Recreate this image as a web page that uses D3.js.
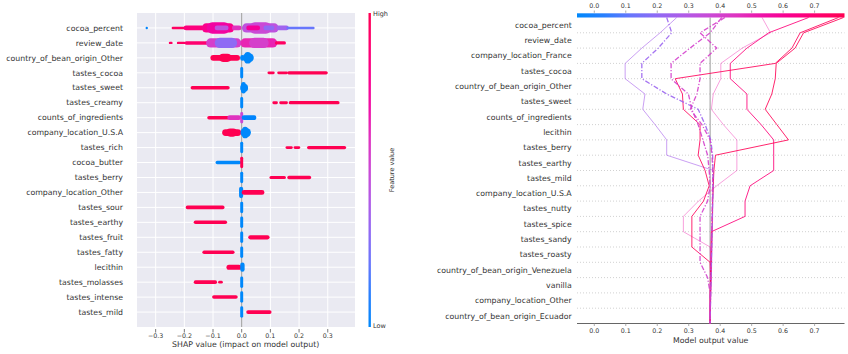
<!DOCTYPE html>
<html>
<head>
<meta charset="utf-8">
<script src="https://cdn.jsdelivr.net/npm/d3@7"></script>
<style>
  body { margin: 0; background: #fff; }
  svg { font-family: "DejaVu Sans", sans-serif; }
</style>
</head>
<body>
<svg id="chart" width="848" height="354"></svg>
<script>
// ---- summary (beeswarm) plot data ----
const summaryFeatures = [
  "cocoa_percent", "review_date", "country_of_bean_origin_Other", "tastes_cocoa",
  "tastes_sweet", "tastes_creamy", "counts_of_ingredients", "company_location_U.S.A",
  "tastes_rich", "cocoa_butter", "tastes_berry", "company_location_Other",
  "tastes_sour", "tastes_earthy", "tastes_fruit", "tastes_fatty",
  "lecithin", "tastes_molasses", "tastes_intense", "tastes_mild"
];
const summaryTicks = [-0.3, -0.2, -0.1, 0, 0.1, 0.2, 0.3];
// per feature: [shap low, shap high, feature value (0 low .. 1 high), point density 1..5]
const summaryBands = [
  [[-0.331, -0.331, 0.05, 1], [-0.240, -0.198, 0.95, 1], [-0.198, -0.135, 0.85, 2],
   [-0.135, -0.030, 0.8, 4], [-0.118, -0.045, 0.72, 5], [-0.09, -0.05, 0.45, 2],
   [-0.030, -0.005, 0.6, 2], [0.005, 0.125, 0.45, 4], [0.030, 0.100, 0.5, 5],
   [0.02, 0.06, 0.75, 2], [0.08, 0.11, 0.3, 2], [0.125, 0.160, 0.35, 2], [0.160, 0.250, 0.2, 1]],
  [[-0.250, -0.245, 0.95, 1], [-0.222, -0.200, 0.95, 1], [-0.195, -0.120, 0.9, 1.5],
   [-0.120, -0.005, 0.55, 4], [-0.090, -0.020, 0.3, 4.5], [0.000, 0.120, 0.65, 4],
   [0.030, 0.090, 0.55, 4.5], [0.120, 0.150, 0.95, 1.3]],
  [[-0.105, -0.010, 1, 2.5], [-0.075, -0.040, 1, 3.5], [-0.001, 0.006, 0, 2.5], [0.008, 0.038, 0, 4], [0.014, 0.028, 0, 5]],
  [[-0.001, 0.001, 0, 5], [0.094, 0.111, 1, 1.2], [0.128, 0.157, 1, 1.2], [0.163, 0.296, 1, 1.4]],
  [[-0.174, -0.046, 1, 1.5], [-0.001, 0.018, 0, 3.5], [0.002, 0.010, 0, 5]],
  [[-0.001, 0.001, 0, 5], [0.111, 0.122, 1, 1.2], [0.135, 0.157, 1, 1.2], [0.168, 0.337, 1, 1.4]],
  [[-0.116, -0.046, 1, 1.5], [-0.046, -0.006, 0.6, 2], [-0.001, 0.001, 0.5, 5], [0.004, 0.047, 0.05, 2]],
  [[-0.064, -0.006, 1, 3], [-0.050, -0.020, 1, 3.5], [0.000, 0.028, 0, 4], [0.006, 0.018, 0, 5]],
  [[-0.001, 0.001, 0, 5], [0.157, 0.174, 1, 1.2], [0.185, 0.200, 1, 1.2], [0.232, 0.360, 1, 1.4]],
  [[-0.087, -0.006, 0, 1.5], [-0.001, 0.001, 1, 5]],
  [[-0.001, 0.001, 0, 5], [0.101, 0.150, 1, 1.3], [0.163, 0.238, 1, 1.4]],
  [[-0.005, 0.001, 0, 5], [0.004, 0.075, 1, 2]],
  [[-0.191, -0.064, 1, 1.5], [-0.001, 0.001, 0, 5]],
  [[-0.163, -0.055, 1, 1.5], [-0.001, 0.001, 0, 5]],
  [[-0.001, 0.001, 0, 5], [0.027, 0.093, 1, 1.8]],
  [[-0.133, -0.029, 1, 1.5], [-0.001, 0.001, 0, 5]],
  [[-0.049, -0.005, 1, 2.2], [-0.001, 0.006, 0, 4]],
  [[-0.163, -0.090, 1, 1.5], [-0.078, -0.070, 1, 1.2], [-0.001, 0.001, 0, 5]],
  [[-0.099, -0.018, 1, 1.5], [-0.001, 0.001, 0, 5]],
  [[-0.001, 0.001, 0, 5], [0.020, 0.100, 1, 1.6]]
];

// ---- decision plot data ----
const decisionFeatures = [
  "cocoa_percent", "review_date", "company_location_France", "tastes_cocoa",
  "country_of_bean_origin_Other", "tastes_sweet", "counts_of_ingredients", "lecithin",
  "tastes_berry", "tastes_earthy", "tastes_mild", "company_location_U.S.A",
  "tastes_nutty", "tastes_spice", "tastes_sandy", "tastes_roasty",
  "country_of_bean_origin_Venezuela", "vanilla", "company_location_Other", "country_of_bean_origin_Ecuador"
];
const decisionTicks = [0, 0.1, 0.2, 0.3, 0.4, 0.5, 0.6, 0.7];
const decisionBase = 0.368;
// cumulative model output, from the top (final output) down to the base value
const decisionLines = [
  {misclassified: false, values: [.262, .209, .151, .098, .098, .161, .154, .193, .230, .230, .379, .378, .377, .376, .375, .374, .373, .372, .370, .369, .368]},
  {misclassified: false, values: [.533, .560, .470, .402, .402, .378, .372, .410, .453, .453, .453, .389, .331, .283, .283, .368, .369, .369, .368, .368, .368]},
  {misclassified: false, values: [.681, .554, .485, .432, .432, .485, .485, .530, .570, .570, .570, .495, .479, .479, .372, .371, .370, .369, .369, .368, .368]},
  {misclassified: false, values: [.792, .665, .638, .578, .575, .564, .543, .580, .617, .385, .380, .378, .376, .375, .374, .373, .372, .371, .370, .369, .368]},
  {misclassified: false, values: [.776, .654, .628, .575, .257, .280, .283, .336, .336, .330, .352, .365, .347, .310, .310, .310, .368, .369, .368, .368, .368]},
  {misclassified: true, values: [.230, .246, .203, .151, .151, .230, .330, .352, .370, .376, .377, .377, .376, .375, .374, .373, .372, .371, .370, .369, .368]},
  {misclassified: true, values: [.415, .336, .389, .336, .336, .326, .305, .342, .368, .374, .376, .376, .375, .374, .373, .372, .371, .370, .369, .368, .368]},
  {misclassified: true, values: [.405, .368, .304, .244, .244, .299, .310, .330, .345, .360, .365, .368, .360, .336, .336, .336, .336, .360, .368, .368, .368]}
];

// ---- drawing ----
const svg = d3.select("#chart");
const redBlue = d3.interpolateHcl(d3.hcl(266.9, 70, 54), d3.hcl(20.35, 90, 54));
const fmt = d3.format(".1f");
const textColor = "#333333";

// summary plot
const L = {left: 137, right: 355, top: 13, bottom: 327};
const xs = d3.scaleLinear().domain([-0.365, 0.395]).range([L.left, L.right]);
const ys = d3.scaleLinear().domain([-1, summaryFeatures.length]).range([L.top, L.bottom]);
const thick = d3.scaleLinear().domain([1, 5]).range([2.4, 11.5]);
const dot = 2.4;

const left = svg.append("g");
left.append("rect")
  .attr("x", L.left).attr("y", L.top)
  .attr("width", L.right - L.left).attr("height", L.bottom - L.top)
  .attr("fill", "#eaeaf2");

left.selectAll(".hgrid").data(summaryFeatures).join("line")
  .attr("x1", L.left).attr("x2", L.right)
  .attr("y1", (d, i) => ys(i)).attr("y2", (d, i) => ys(i))
  .attr("stroke", "#fff").attr("stroke-width", 1);

left.selectAll(".vgrid").data(summaryTicks).join("line")
  .attr("x1", d => xs(d)).attr("x2", d => xs(d))
  .attr("y1", L.top).attr("y2", L.bottom)
  .attr("stroke", "#fff").attr("stroke-width", 1);

left.append("line")
  .attr("x1", xs(0)).attr("x2", xs(0))
  .attr("y1", L.top).attr("y2", L.bottom)
  .attr("stroke", "#999").attr("stroke-width", 1);

summaryBands.forEach((bands, i) => {
  left.append("g").selectAll("rect").data(bands).join("rect")
    .attr("x", d => xs(d[0]) - dot / 2)
    .attr("width", d => xs(d[1]) - xs(d[0]) + dot)
    .attr("y", d => ys(i) - thick(d[3]) / 2)
    .attr("height", d => thick(d[3]))
    .attr("rx", d => Math.min(xs(d[1]) - xs(d[0]) + dot, thick(d[3])) / 2)
    .attr("fill", d => redBlue(d[2]));
});

left.selectAll(".flabel").data(summaryFeatures).join("text")
  .attr("x", 123).attr("y", (d, i) => ys(i))
  .attr("dy", "0.35em").attr("text-anchor", "end")
  .attr("font-size", 7.8).attr("fill", textColor)
  .text(d => d);

left.selectAll(".tick").data(summaryTicks).join("line")
  .attr("x1", d => xs(d)).attr("x2", d => xs(d))
  .attr("y1", L.bottom + 2).attr("y2", L.bottom + 5.5)
  .attr("stroke", "#555").attr("stroke-width", 0.8);

left.selectAll(".tlabel").data(summaryTicks).join("text")
  .attr("x", d => xs(d)).attr("y", 336)
  .attr("dy", "0.35em").attr("text-anchor", "middle")
  .attr("font-size", 6.3).attr("fill", textColor)
  .text(d => fmt(d));

left.append("text")
  .attr("x", xs(0) + 4).attr("y", 347)
  .attr("text-anchor", "middle").attr("font-size", 7.8).attr("fill", textColor)
  .text("SHAP value (impact on model output)");

// feature value colour bar
const defs = svg.append("defs");
const vgrad = defs.append("linearGradient").attr("id", "vgrad")
  .attr("x1", 0).attr("x2", 0).attr("y1", 1).attr("y2", 0);
d3.range(0, 1.001, 0.1).forEach(t => vgrad.append("stop").attr("offset", t).attr("stop-color", redBlue(t)));
left.append("rect")
  .attr("x", 368.5).attr("y", L.top).attr("width", 2.4).attr("height", L.bottom - L.top)
  .attr("fill", "url(#vgrad)");
left.append("text").attr("x", 373).attr("y", L.top + 1).attr("dy", "0.35em")
  .attr("font-size", 6.5).attr("fill", textColor).text("High");
left.append("text").attr("x", 373).attr("y", L.bottom - 1).attr("dy", "0.35em")
  .attr("font-size", 6.5).attr("fill", textColor).text("Low");
left.append("text")
  .attr("transform", "translate(392," + (L.top + L.bottom) / 2 + ") rotate(-90)")
  .attr("text-anchor", "middle").attr("dy", "0.35em")
  .attr("font-size", 6.5).attr("fill", textColor).text("Feature value");

// decision plot
const R = {left: 577, right: 844.5, top: 17.5, bottom: 323.5};
const n = decisionFeatures.length;
const xd = d3.scaleLinear().domain([-0.055, 0.795]).range([R.left, R.right]);
const yd = d3.scaleLinear().domain([0, n]).range([R.bottom, R.top]);
const lineColor = d3.scaleLinear().domain(xd.domain()).range([0, 1]);

const right = svg.append("g");
right.selectAll(".dgrid").data(d3.range(1, n)).join("line")
  .attr("x1", R.left).attr("x2", R.right)
  .attr("y1", d => yd(d)).attr("y2", d => yd(d))
  .attr("stroke", "#cccccc").attr("stroke-width", 0.9)
  .attr("stroke-dasharray", "1,2");

right.append("line")
  .attr("x1", R.left).attr("x2", R.right)
  .attr("y1", R.bottom).attr("y2", R.bottom)
  .attr("stroke", "#666").attr("stroke-width", 1);

right.append("line")
  .attr("x1", xd(decisionBase)).attr("x2", xd(decisionBase))
  .attr("y1", R.top).attr("y2", R.bottom)
  .attr("stroke", "#999").attr("stroke-width", 1);

const lineGen = d3.line().x(d => xd(d)).y((d, k) => yd(n - k));
const lineAlpha = [0.6, 0.4, 0.85, 0.85, 0.85, 0.9, 0.9, 0.9];
const ordered = decisionLines.map((d, i) => ({...d, i}))
  .sort((a, b) => (a.misclassified === b.misclassified) ? 0 : (a.misclassified ? 1 : -1));
right.selectAll(".dline").data(ordered).join("path")
  .attr("d", d => lineGen(d.values))
  .attr("fill", "none")
  .attr("stroke", d => redBlue(lineColor(d.values[0])))
  .attr("stroke-opacity", d => lineAlpha[d.i])
  .attr("stroke-width", d => d.misclassified ? 1.3 : 1)
  .attr("stroke-dasharray", d => d.misclassified ? "5,1.8,1.2,1.8" : null);

right.selectAll(".dlabel").data(decisionFeatures).join("text")
  .attr("x", 571.7).attr("y", (d, i) => yd(n - i - 0.5))
  .attr("dy", "0.35em").attr("text-anchor", "end")
  .attr("font-size", 7.8).attr("fill", textColor)
  .text(d => d);

// top colour bar
const hgrad = defs.append("linearGradient").attr("id", "hgrad")
  .attr("x1", 0).attr("x2", 1).attr("y1", 0).attr("y2", 0);
d3.range(0, 1.001, 0.1).forEach(t => hgrad.append("stop").attr("offset", t).attr("stop-color", redBlue(t)));
right.append("rect")
  .attr("x", R.left).attr("y", 13.3).attr("width", R.right - R.left).attr("height", R.top - 13.3)
  .attr("fill", "url(#hgrad)");

right.selectAll(".ttick").data(decisionTicks).join("line")
  .attr("x1", d => xd(d)).attr("x2", d => xd(d))
  .attr("y1", 10.5).attr("y2", 12.8)
  .attr("stroke", "#999").attr("stroke-width", 0.8);
right.selectAll(".ttlabel").data(decisionTicks).join("text")
  .attr("x", d => xd(d)).attr("y", 5.5).attr("dy", "0.35em")
  .attr("text-anchor", "middle").attr("font-size", 6.3).attr("fill", textColor)
  .text(d => fmt(d));

right.selectAll(".btick").data(decisionTicks).join("line")
  .attr("x1", d => xd(d)).attr("x2", d => xd(d))
  .attr("y1", R.bottom).attr("y2", R.bottom + 2.5)
  .attr("stroke", "#999").attr("stroke-width", 0.8);
right.selectAll(".bblabel").data(decisionTicks).join("text")
  .attr("x", d => xd(d)).attr("y", 330.5).attr("dy", "0.35em")
  .attr("text-anchor", "middle").attr("font-size", 6.3).attr("fill", textColor)
  .text(d => fmt(d));

right.append("text")
  .attr("x", 710.7).attr("y", 343)
  .attr("text-anchor", "middle").attr("font-size", 7.8).attr("fill", textColor)
  .text("Model output value");
</script>
</body>
</html>
